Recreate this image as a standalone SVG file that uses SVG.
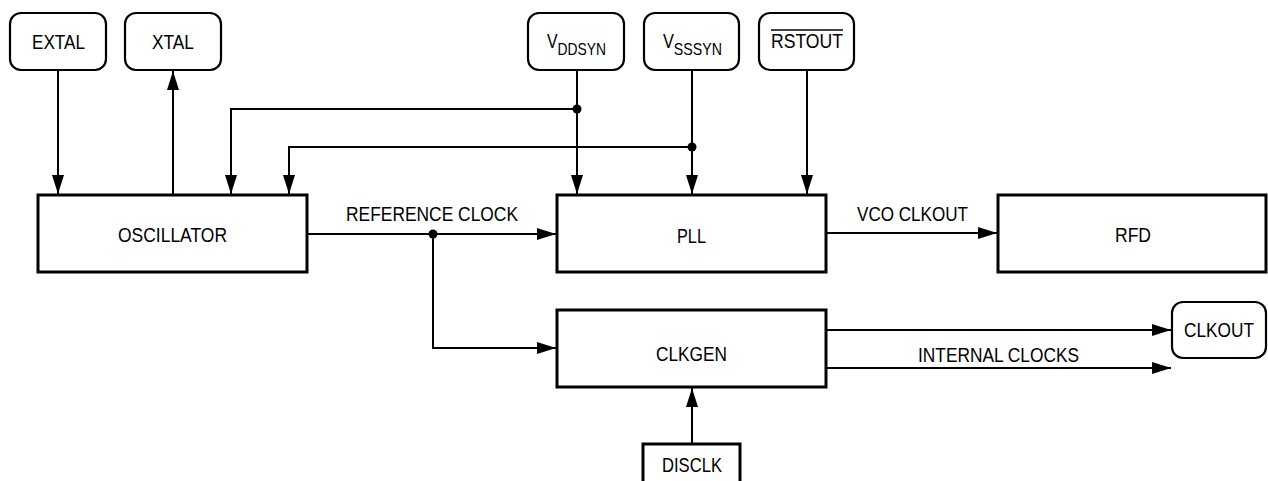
<svg xmlns="http://www.w3.org/2000/svg" width="1268" height="481" viewBox="0 0 1268 481">
<style>
.blk{fill:#fff;stroke:#000;stroke-width:3}
.pin{fill:#fff;stroke:#000;stroke-width:2.2}
.t{font-family:"Liberation Sans",Arial,sans-serif;font-size:19.5px;fill:#000;text-anchor:middle}
.l{text-anchor:start}
.s{font-size:17px}
.w{fill:none;stroke:#000;stroke-width:2}
.dot{fill:#000}
</style>
<defs>
<marker id="ar" markerUnits="userSpaceOnUse" markerWidth="20" markerHeight="13" refX="19" refY="6" orient="auto">
<path d="M0,0 L19,6 L0,12 z" fill="#000"/>
</marker>
</defs>
<g id="connectors">
<path class="w" d="M58,70 V194" marker-end="url(#ar)"/>
<path class="w" d="M173,195 V71" marker-end="url(#ar)"/>
<path class="w" d="M577,70 V194" marker-end="url(#ar)"/>
<path class="w" d="M577,109 H231 V194" marker-end="url(#ar)"/>
<path class="w" d="M692,70 V194" marker-end="url(#ar)"/>
<path class="w" d="M692,147 H289 V194" marker-end="url(#ar)"/>
<path class="w" d="M807,70 V194" marker-end="url(#ar)"/>
<path class="w" d="M307,234 H556" marker-end="url(#ar)"/>
<path class="w" d="M433,234 V348 H556" marker-end="url(#ar)"/>
<path class="w" d="M826,233 H997" marker-end="url(#ar)"/>
<path class="w" d="M826,330 H1171" marker-end="url(#ar)"/>
<path class="w" d="M826,368 H1171" marker-end="url(#ar)"/>
<path class="w" d="M692,444 V388" marker-end="url(#ar)"/>
<circle class="dot" cx="577" cy="109" r="4.5"/>
<circle class="dot" cx="692" cy="147" r="4.5"/>
<circle class="dot" cx="433" cy="234" r="4.5"/>
<text class="t" x="432" y="221" textLength="172" lengthAdjust="spacingAndGlyphs">REFERENCE CLOCK</text>
<text class="t" x="912.5" y="221" textLength="111" lengthAdjust="spacingAndGlyphs">VCO CLKOUT</text>
<text class="t" x="998.5" y="362" textLength="161" lengthAdjust="spacingAndGlyphs">INTERNAL CLOCKS</text>
</g>
<g id="extal"><rect class="pin" x="10" y="13" width="96" height="57" rx="11"/><text class="t" x="58.5" y="49" textLength="53" lengthAdjust="spacingAndGlyphs">EXTAL</text></g>
<g id="xtal"><rect class="pin" x="125" y="13" width="96" height="57" rx="11"/><text class="t" x="173" y="49" textLength="42" lengthAdjust="spacingAndGlyphs">XTAL</text></g>
<g id="vddsyn"><rect class="pin" x="528" y="13" width="96" height="57" rx="11"/><text class="t l" x="547" y="48" textLength="59" lengthAdjust="spacingAndGlyphs">V<tspan class="s" dy="7">DDSYN</tspan></text></g>
<g id="vsssyn"><rect class="pin" x="644" y="13" width="95" height="57" rx="11"/><text class="t l" x="663" y="48" textLength="59" lengthAdjust="spacingAndGlyphs">V<tspan class="s" dy="7">SSSYN</tspan></text></g>
<g id="rstout"><rect class="pin" x="759" y="13" width="95" height="57" rx="11"/><text class="t" x="807" y="48" textLength="72" lengthAdjust="spacingAndGlyphs">RSTOUT</text><line x1="771" y1="30" x2="843" y2="30" stroke="#000" stroke-width="1.5"/></g>
<g id="oscillator"><rect class="blk" x="38" y="195" width="269" height="77"/><text class="t" x="172.5" y="242" textLength="109" lengthAdjust="spacingAndGlyphs">OSCILLATOR</text></g>
<g id="pll"><rect class="blk" x="557" y="195" width="269" height="77"/><text class="t" x="691.5" y="243" textLength="29" lengthAdjust="spacingAndGlyphs">PLL</text></g>
<g id="rfd"><rect class="blk" x="998" y="195" width="268" height="77"/><text class="t" x="1133" y="242" textLength="36" lengthAdjust="spacingAndGlyphs">RFD</text></g>
<g id="clkgen"><rect class="blk" x="557" y="310" width="269" height="77"/><text class="t" x="691.5" y="361" textLength="71" lengthAdjust="spacingAndGlyphs">CLKGEN</text></g>
<g id="clkout"><rect class="pin" x="1172" y="302" width="94" height="56" rx="11"/><text class="t" x="1219" y="337" textLength="70" lengthAdjust="spacingAndGlyphs">CLKOUT</text></g>
<g id="disclk"><rect class="blk" x="643" y="444" width="97" height="45"/><text class="t" x="692" y="472" textLength="60" lengthAdjust="spacingAndGlyphs">DISCLK</text></g>
</svg>
